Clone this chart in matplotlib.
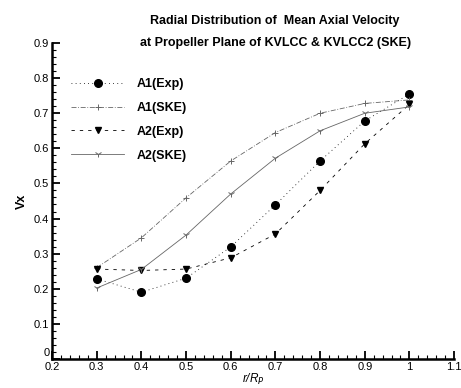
import matplotlib
matplotlib.use("Agg")
import matplotlib.pyplot as plt
import matplotlib.transforms as mtransforms
from matplotlib.ticker import MultipleLocator

plt.rcParams["font.family"] = ["Liberation Sans", "DejaVu Sans"]

r = [0.3, 0.4, 0.5, 0.6, 0.7, 0.8, 0.9, 1.0]
a1_exp = [0.228, 0.190, 0.230, 0.319, 0.439, 0.564, 0.678, 0.755]
a2_exp = [0.256, 0.252, 0.256, 0.288, 0.356, 0.480, 0.613, 0.725]
a1_ske = [0.260, 0.345, 0.459, 0.564, 0.645, 0.700, 0.728, 0.738]
a2_ske = [0.202, 0.255, 0.353, 0.470, 0.572, 0.650, 0.700, 0.718]

xticks = [0.2, 0.3, 0.4, 0.5, 0.6, 0.7, 0.8, 0.9, 1.0, 1.1]
xlabels = ["0.2", "0.3", "0.4", "0.5", "0.6", "0.7", "0.8", "0.9", "1", "1.1"]
yticks = [0, 0.1, 0.2, 0.3, 0.4, 0.5, 0.6, 0.7, 0.8, 0.9]
ylabels = ["0", "0.1", "0.2", "0.3", "0.4", "0.5", "0.6", "0.7", "0.8", "0.9"]

fig = plt.figure(figsize=(4.61, 3.88), dpi=100)
ax = fig.add_axes([0.113, 0.075, 0.872, 0.814])

ax.plot(r, a1_exp, color="black", ls=(0, (1, 4)), lw=0.6,
        marker="o", ms=5.5, label="A1(Exp)")
ax.plot(r, a1_ske, color="#666666", ls=(0, (6, 2, 1, 2)), lw=0.6,
        marker="+", ms=5, mew=0.7, label="A1(SKE)")
ax.plot(r, a2_exp, color="black", ls=(0, (4, 6)), lw=0.6,
        marker="v", ms=5, label="A2(Exp)")
ax.plot(r, a2_ske, color="#666666", ls="-", lw=0.6,
        marker="1", ms=5, mew=0.7, label="A2(SKE)")

ax.set_xlim(0.2, 1.1)
ax.set_ylim(0, 0.9)
ax.xaxis.set_minor_locator(MultipleLocator(0.02))
ax.yaxis.set_minor_locator(MultipleLocator(0.02))
ax.set_xticks(xticks)
ax.set_xticklabels(xlabels)
ax.set_yticks(yticks)
ax.set_yticklabels(ylabels)

for side in ["top", "right"]:
    ax.spines[side].set_visible(False)
for side in ["left", "bottom"]:
    ax.spines[side].set_linewidth(1.8)
ax.tick_params(which="major", direction="in", length=6, width=1.3,
               labelsize=8, pad=2)
ax.tick_params(which="minor", direction="in", length=3, width=0.8)

# the "0" of the y axis sits a little above the axis line, like the scan
lab0 = ax.get_yticklabels()[0]
lab0.set_transform(lab0.get_transform() +
                   mtransforms.ScaledTranslation(0, 5 / 72, fig.dpi_scale_trans))

ax.set_xlabel("r/R$_P$", fontsize=8.5, fontstyle="italic", labelpad=0)
ax.set_ylabel("Vx", fontsize=9, fontweight="bold", labelpad=4)

fig.text(0.597, 0.945, "Radial Distribution of  Mean Axial Velocity",
         ha="center", va="center", fontsize=9, fontweight="bold")
fig.text(0.597, 0.89, "at Propeller Plane of KVLCC & KVLCC2 (SKE)",
         ha="center", va="center", fontsize=9, fontweight="bold")

leg = ax.legend(loc="upper left", bbox_to_anchor=(0.02, 0.925), frameon=False,
                fontsize=9, handlelength=4.2, labelspacing=0.95, handletextpad=1.0)
for t in leg.get_texts():
    t.set_fontweight("bold")

fig.savefig("out.png", dpi=100)
